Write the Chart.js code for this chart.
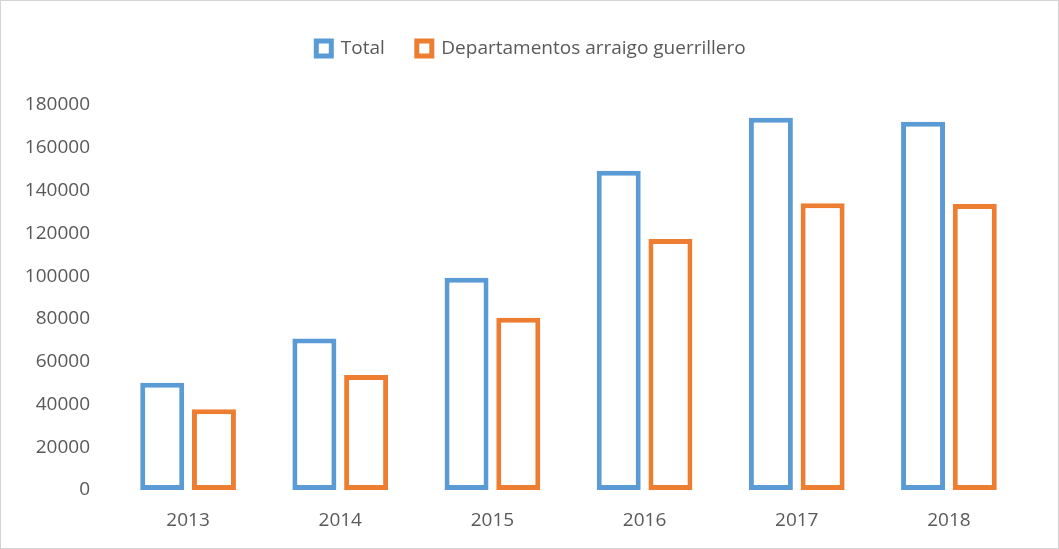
<!DOCTYPE html>
<html>
<head>
<meta charset="utf-8">
<script src="https://cdn.jsdelivr.net/npm/chart.js@4"></script>
<style>
  html, body { margin: 0; padding: 0; background: #fff; }
  #wrap { width: 1057px; height: 547px; border: 1px solid #d4d4d4; position: relative; }
</style>
</head>
<body>
<div id="wrap"><canvas id="chart"></canvas></div>
<script>
// datos
const years = ['2013', '2014', '2015', '2016', '2017', '2018'];
const total = [50200, 70800, 99200, 149300, 174000, 172200];
const arraigo = [37700, 53800, 80500, 117400, 134100, 133700];
const yTicks = [0, 20000, 40000, 60000, 80000, 100000, 120000, 140000, 160000, 180000];

const grey = '#595959';
const fontFam = '"Open Sans", "Liberation Sans", sans-serif';

// más espacio bajo la leyenda y un pequeño desplazamiento a la derecha
const legendGap = {
    id: 'legendGap',
    beforeInit(chart) {
        const fit = chart.legend.fit;
        chart.legend.fit = function () {
            fit.call(this);
            this.height += 37;
        };
    },
    afterLayout(chart) {
        chart.legend.left += 13;
        chart.legend.right += 13;
    }
};

new Chart(document.getElementById('chart'), {
    type: 'bar',
    data: {
        labels: years,
        datasets: [
            {
                label: 'Total',
                data: total,
                backgroundColor: '#ffffff',
                borderColor: '#5B9BD5',
                borderWidth: 5,
                borderSkipped: false
            },
            {
                label: 'Departamentos arraigo guerrillero',
                data: arraigo,
                backgroundColor: '#ffffff',
                borderColor: '#ED7D31',
                borderWidth: 5,
                borderSkipped: false
            }
        ]
    },
    plugins: [legendGap],
    options: {
        responsive: true,
        maintainAspectRatio: false,
        animation: false,
        datasets: {
            bar: { categoryPercentage: 0.68, barPercentage: 0.85 }
        },
        layout: { padding: { left: 10, right: 33, top: 6, bottom: 16 } },
        plugins: {
            legend: {
                position: 'top',
                labels: {
                    color: grey,
                    font: { family: fontFam, size: 19 },
                    boxWidth: 15,
                    boxHeight: 15,
                    padding: 32
                }
            },
            tooltip: { enabled: false }
        },
        scales: {
            x: {
                afterFit: axis => { axis.height = 42; },
                grid: { display: false, drawTicks: false },
                border: { display: false },
                ticks: { color: grey, font: { family: fontFam, size: 19 }, padding: 19 }
            },
            y: {
                min: 0,
                max: 180000,
                afterBuildTicks: axis => { axis.ticks = yTicks.map(v => ({ value: v })); },
                afterFit: axis => { axis.width = 101; },
                grid: { display: false, drawTicks: false },
                border: { display: false },
                ticks: {
                    color: grey,
                    font: { family: fontFam, size: 19 },
                    padding: 22,
                    callback: v => String(v)
                }
            }
        }
    }
});
</script>
</body>
</html>
